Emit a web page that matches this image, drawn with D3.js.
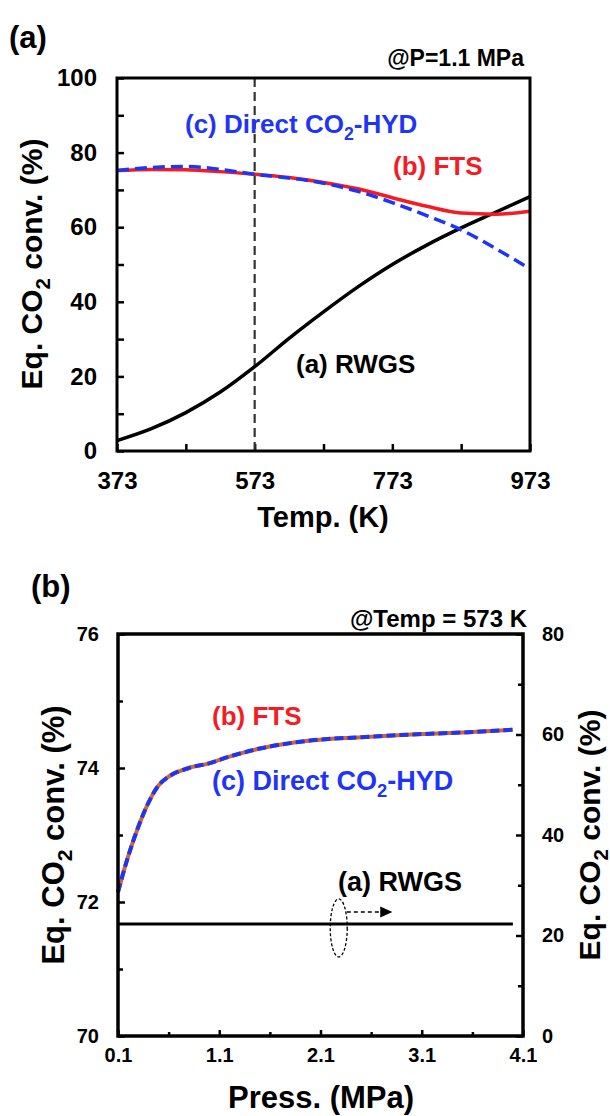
<!DOCTYPE html>
<html>
<head>
<meta charset="utf-8">
<script src="https://cdnjs.cloudflare.com/ajax/libs/d3/7.8.5/d3.min.js"></script>
<style>
  body { margin: 0; background: #fff; }
  svg { display: block; font-family: "Liberation Sans", Arial, sans-serif; font-weight: bold; }
  .tick line { stroke: #000; stroke-width: 2.5; }
  .tick text { fill: #000; }
</style>
</head>
<body>
<div id="chart"></div>
<script>
// ---- data ----
// (a) temperature sweep @ 1.1 MPa
var tempK = [373, 423, 473, 523, 573, 623, 673, 723, 773, 823, 873, 923, 973];
var rwgsT = [2.8, 6.0, 10.3, 15.8, 22.6, 30.2, 37.3, 44.0, 50.0, 55.2, 59.8, 64.0, 68.2];
var ftsT  = [75.2, 75.5, 75.4, 74.9, 74.2, 73.3, 72.0, 70.3, 67.9, 65.6, 63.8, 63.5, 64.3];
var hydT  = [75.2, 76.0, 76.3, 75.5, 74.2, 73.2, 71.8, 69.6, 66.6, 63.1, 59.3, 54.3, 48.8];
var tempTicks = [373, 573, 773, 973];
var tempMinor = [473, 673, 873];
var convTicks = [0, 20, 40, 60, 80, 100];
var convMinor = [10, 30, 50, 70, 90];

// (b) pressure sweep @ 573 K
var pressMPa = [0.1, 0.2, 0.3, 0.4, 0.5, 0.6, 0.8, 1.0, 1.2, 1.5, 2.0, 2.5, 3.0, 3.5, 4.0];
var ftsP  = [72.15, 72.68, 73.12, 73.48, 73.74, 73.87, 74.0, 74.07, 74.17, 74.29, 74.41, 74.46, 74.5, 74.53, 74.57];
var hydP  = [72.15, 72.68, 73.12, 73.48, 73.74, 73.87, 74.0, 74.07, 74.17, 74.29, 74.41, 74.46, 74.5, 74.53, 74.57];
var rwgsP = [22.3, 22.3, 22.3, 22.3, 22.3, 22.3, 22.3, 22.3, 22.3, 22.3, 22.3, 22.3, 22.3, 22.3, 22.3];
var pressTicks = [0.1, 1.1, 2.1, 3.1, 4.1];
var pressMinor = [0.6, 1.6, 2.6, 3.6];
var leftTicks = [70, 72, 74, 76];
var leftMinor = [71, 73, 75];
var rightTicks = [0, 20, 40, 60, 80];
var rightMinor = [10, 30, 50, 70];

var RED = "#f41c24", BLUE = "#1f35f5";

var svg = d3.select("#chart").append("svg")
	.attr("width", 610)
	.attr("height", 1116);

// text with a subscript 2 after prefix
function co2Text(g, x, y, prefix, suffix, size, color, anchor) {
	var t = g.append("text")
		.attr("x", x).attr("y", y)
		.attr("font-size", size)
		.attr("fill", color)
		.attr("text-anchor", anchor || "start");
	t.append("tspan").text(prefix);
	t.append("tspan").attr("dy", size * 0.25).attr("font-size", size * 0.68).text("2");
	t.append("tspan").attr("dy", -size * 0.25).text(suffix);
	return t;
}

function plainText(g, x, y, str, size, color, anchor) {
	return g.append("text")
		.attr("x", x).attr("y", y)
		.attr("font-size", size)
		.attr("fill", color || "#000")
		.attr("text-anchor", anchor || "start")
		.text(str);
}

function cleanAxis(sel, fontSize) {
	sel.select(".domain").remove();
	sel.selectAll("text").attr("font-size", fontSize).attr("font-family", null);
}

/* ================= panel (a) ================= */
var gA = svg.append("g");
var xA = d3.scaleLinear().domain([373, 973]).range([117, 530]);
var yA = d3.scaleLinear().domain([0, 100]).range([451, 78]);

gA.append("g")
	.attr("transform", "translate(0," + yA(0) + ")")
	.call(d3.axisBottom(xA).tickValues(tempTicks).tickSize(-7).tickPadding(21).tickFormat(d3.format("d")))
	.call(cleanAxis, 24);
gA.append("g")
	.attr("transform", "translate(0," + yA(0) + ")")
	.call(d3.axisBottom(xA).tickValues(tempMinor).tickSize(-7).tickFormat(""))
	.call(cleanAxis, 24);
gA.append("g")
	.attr("transform", "translate(" + xA(373) + ",0)")
	.call(d3.axisLeft(yA).tickValues(convTicks).tickSize(-7).tickPadding(20))
	.call(cleanAxis, 24);
gA.append("g")
	.attr("transform", "translate(" + xA(373) + ",0)")
	.call(d3.axisLeft(yA).tickValues(convMinor).tickSize(-7).tickFormat(""))
	.call(cleanAxis, 24);

// vertical marker at 573 K
gA.append("line")
	.attr("x1", xA(573)).attr("x2", xA(573))
	.attr("y1", yA(100)).attr("y2", yA(0))
	.attr("stroke", "#333").attr("stroke-width", 2.2)
	.attr("stroke-dasharray", "9,5");

var lineA = function(vals) {
	return d3.line()
		.x(function(d, i) { return xA(tempK[i]); })
		.y(function(d) { return yA(d); })
		.curve(d3.curveMonotoneX)(vals);
};

gA.append("path").attr("d", lineA(rwgsT))
	.attr("fill", "none").attr("stroke", "#000").attr("stroke-width", 3.5);
gA.append("path").attr("d", lineA(ftsT))
	.attr("fill", "none").attr("stroke", RED).attr("stroke-width", 3.5);
gA.append("path").attr("d", lineA(hydT))
	.attr("fill", "none").attr("stroke", BLUE).attr("stroke-width", 3.5)
	.attr("stroke-dasharray", "12,6");

gA.append("rect")
	.attr("x", xA(373)).attr("y", yA(100))
	.attr("width", xA(973) - xA(373)).attr("height", yA(0) - yA(100))
	.attr("fill", "none").attr("stroke", "#000").attr("stroke-width", 3);

co2Text(gA, 185, 133, "(c) Direct CO", "-HYD", 26, BLUE);
plainText(gA, 393, 175, "(b) FTS", 26, RED);
plainText(gA, 296, 373, "(a) RWGS", 26, "#000");
plainText(gA, 524, 66, "@P=1.1 MPa", 23, "#000", "end");
plainText(gA, 9, 48, "(a)", 31, "#000");
plainText(gA, 323, 527, "Temp. (K)", 29, "#000", "middle");
co2Text(gA, 0, 0, "Eq. CO", " conv. (%)", 30, "#000", "middle")
	.attr("transform", "translate(42,264) rotate(-90)");

/* ================= panel (b) ================= */
var gB = svg.append("g");
var xB = d3.scaleLinear().domain([0.1, 4.1]).range([118, 523]);
var yL = d3.scaleLinear().domain([70, 76]).range([1036, 634]);
var yR = d3.scaleLinear().domain([0, 80]).range([1036, 634]);

gB.append("g")
	.attr("transform", "translate(0," + yL(70) + ")")
	.call(d3.axisBottom(xB).tickValues(pressTicks).tickSize(-6).tickPadding(12).tickFormat(d3.format(".1f")))
	.call(cleanAxis, 20);
gB.append("g")
	.attr("transform", "translate(0," + yL(70) + ")")
	.call(d3.axisBottom(xB).tickValues(pressMinor).tickSize(-4).tickFormat(""))
	.call(cleanAxis, 20);
gB.append("g")
	.attr("transform", "translate(" + xB(0.1) + ",0)")
	.call(d3.axisLeft(yL).tickValues(leftTicks).tickSize(-7).tickPadding(19).tickFormat(d3.format("d")))
	.call(cleanAxis, 20);
gB.append("g")
	.attr("transform", "translate(" + xB(0.1) + ",0)")
	.call(d3.axisLeft(yL).tickValues(leftMinor).tickSize(-5).tickFormat(""))
	.call(cleanAxis, 20);
gB.append("g")
	.attr("transform", "translate(" + xB(4.1) + ",0)")
	.call(d3.axisRight(yR).tickValues(rightTicks).tickSize(-7).tickPadding(19).tickFormat(d3.format("d")))
	.call(cleanAxis, 20);
gB.append("g")
	.attr("transform", "translate(" + xB(4.1) + ",0)")
	.call(d3.axisRight(yR).tickValues(rightMinor).tickSize(-5).tickFormat(""))
	.call(cleanAxis, 20);

var lineB = function(vals, yScale) {
	return d3.line()
		.x(function(d, i) { return xB(pressMPa[i]); })
		.y(function(d) { return yScale(d); })
		.curve(d3.curveMonotoneX)(vals);
};

gB.append("path").attr("d", lineB(rwgsP, yR))
	.attr("fill", "none").attr("stroke", "#000").attr("stroke-width", 3);
gB.append("path").attr("d", lineB(ftsP, yL))
	.attr("fill", "none").attr("stroke", "#d9622e").attr("stroke-width", 4);
gB.append("path").attr("d", lineB(hydP, yL))
	.attr("fill", "none").attr("stroke", BLUE).attr("stroke-width", 4)
	.attr("stroke-dasharray", "9,4");

// ellipse + arrow pointing to the right axis
gB.append("ellipse")
	.attr("cx", xB(2.28)).attr("cy", yR(21.5))
	.attr("rx", 8.5).attr("ry", 29)
	.attr("fill", "none").attr("stroke", "#000").attr("stroke-width", 1.3)
	.attr("stroke-dasharray", "3,2");
gB.append("line")
	.attr("x1", xB(2.36)).attr("x2", xB(2.7))
	.attr("y1", yR(24.7)).attr("y2", yR(24.7))
	.attr("stroke", "#000").attr("stroke-width", 1.5)
	.attr("stroke-dasharray", "4,3");
gB.append("path")
	.attr("d", d3.line()([[xB(2.69), yR(24.7) - 5.5], [xB(2.81), yR(24.7)], [xB(2.69), yR(24.7) + 5.5]]))
	.attr("fill", "#000");

gB.append("rect")
	.attr("x", xB(0.1)).attr("y", yL(76))
	.attr("width", xB(4.1) - xB(0.1)).attr("height", yL(70) - yL(76))
	.attr("fill", "none").attr("stroke", "#000").attr("stroke-width", 3.5);

plainText(gB, 212, 725, "(b) FTS", 26, RED);
co2Text(gB, 212, 790, "(c) Direct CO", "-HYD", 27, BLUE);
plainText(gB, 338, 891, "(a) RWGS", 27, "#000");
plainText(gB, 527, 627, "@Temp = 573 K", 24, "#000", "end");
plainText(gB, 31, 597, "(b)", 31, "#000");
plainText(gB, 321, 1108, "Press. (MPa)", 31, "#000", "middle");
co2Text(gB, 0, 0, "Eq. CO", " conv. (%)", 31, "#000", "middle")
	.attr("transform", "translate(64,835) rotate(-90)");
co2Text(gB, 0, 0, "Eq. CO", " conv. (%)", 30, "#000", "middle")
	.attr("transform", "translate(600,835) rotate(-90)");
</script>
</body>
</html>
